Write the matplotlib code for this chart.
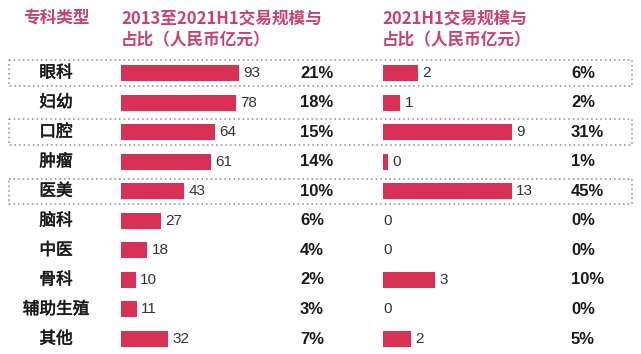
import numpy as np
import matplotlib
matplotlib.use("Agg")
import matplotlib.pyplot as plt
import matplotlib.patches as patches
import matplotlib.patheffects as pe

plt.rcParams["font.family"] = ["Noto Sans CJK SC", "DejaVu Sans"]

# ── 데이터 ─────────────────────────────────────────────
categories = ["眼科", "妇幼", "口腔", "肿瘤", "医美", "脑科", "中医", "骨科", "辅助生殖", "其他"]
total_vals = [93, 78, 64, 61, 43, 27, 18, 10, 11, 32]
total_share = ["21%", "18%", "15%", "14%", "10%", "6%", "4%", "2%", "3%", "7%"]
h1_vals = [2, 1, 9, 0.3, 13, 0, 0, 3, 0, 1.6]
h1_share = ["6%", "2%", "31%", "1%", "45%", "0%", "0%", "10%", "0%", "5%"]
boxed_rows = [0, 2, 4]

header_cat = "专科类型"
header_total = ["2013至2021H1交易规模与", "占比（人民币亿元）"]
header_h1 = ["2021H1交易规模与", "占比（人民币亿元）"]

# ── 레이아웃 (픽셀 기준) ───────────────────────────────
W, H = 641, 354
BAR_COLOR = "#D93055"
HEAD_COLOR = "#C8436F"
TEXT_COLOR = "#1a1a1a"
row0, pitch = 73, 29.56
n = len(categories)
top_px = row0 - pitch / 2
bot_px = row0 + pitch * (n - 1) + pitch / 2


def fx(px):
    return px / W


def fy(py):
    return 1 - py / H


fig = plt.figure(figsize=(W / 100, H / 100), dpi=100)
fig.patch.set_facecolor("white")

ax_h = fy(top_px) - fy(bot_px)
y = np.arange(n)

# 배경 축: 행 라벨, 비율, 점선 박스
ax_bg = fig.add_axes([0, fy(bot_px), 1, ax_h])
ax_bg.set_xlim(0, W)
ax_bg.set_ylim(n - 0.5, -0.5)
ax_bg.axis("off")

for r in boxed_rows:
    rect = patches.Rectangle((8.5, r - 0.43), 623, 0.86, fill=False,
                             edgecolor="#8c8c8c", linestyle=(0, (1, 2)),
                             linewidth=1.1)
    ax_bg.add_patch(rect)

# 행 라벨은 원본처럼 약간 굵게 (획에 얇은 외곽선)
thick = [pe.withStroke(linewidth=0.4, foreground=TEXT_COLOR)]
for i, cat in enumerate(categories):
    ax_bg.text(56, i, cat, ha="center", va="center", fontsize=12,
               color=TEXT_COLOR, path_effects=thick)
    ax_bg.text(300, i, total_share[i], ha="left", va="center", fontsize=12,
               fontweight="bold", color=TEXT_COLOR, family="Liberation Sans")
    ax_bg.text(571, i, h1_share[i], ha="left", va="center", fontsize=12,
               fontweight="bold", color=TEXT_COLOR, family="Liberation Sans")


def bar_col(left_px, width_px, xmax, cap, vals):
    ax = fig.add_axes([fx(left_px), fy(bot_px), fx(width_px), ax_h])
    ax.set_xlim(0, xmax)
    ax.set_ylim(n - 0.5, -0.5)
    ax.axis("off")
    ax.patch.set_alpha(0)
    shown = np.minimum(vals, cap)
    ax.barh(y, shown, height=0.54, color=BAR_COLOR)
    for yi, (s, v) in enumerate(zip(shown, vals)):
        # 막대가 없는 0값은 축 시작점에 바로 표기
        off = 3 if s > 0 else 0
        ax.annotate(f"{v:.0f}", (s, yi), xytext=(off, 0),
                    textcoords="offset points", ha="left", va="center",
                    fontsize=11, color="#333333", family="Liberation Sans")
    return ax


bar_col(121, 170, 115.6, 80, np.array(total_vals, dtype=float))
bar_col(383, 180, 10.4, 7.45, np.array(h1_vals, dtype=float))

# 헤더
fig.text(fx(23), fy(18), header_cat, ha="left", va="center", fontsize=12,
         fontweight="bold", color=HEAD_COLOR)
for k, line in enumerate(header_total):
    fig.text(fx(121), fy(18 + 22 * k), line, ha="left", va="center",
             fontsize=12, fontweight="bold", color=HEAD_COLOR)
for k, line in enumerate(header_h1):
    fig.text(fx(382), fy(18 + 22 * k), line, ha="left", va="center",
             fontsize=12, fontweight="bold", color=HEAD_COLOR)

fig.savefig("out.png", dpi=100, facecolor="white")
